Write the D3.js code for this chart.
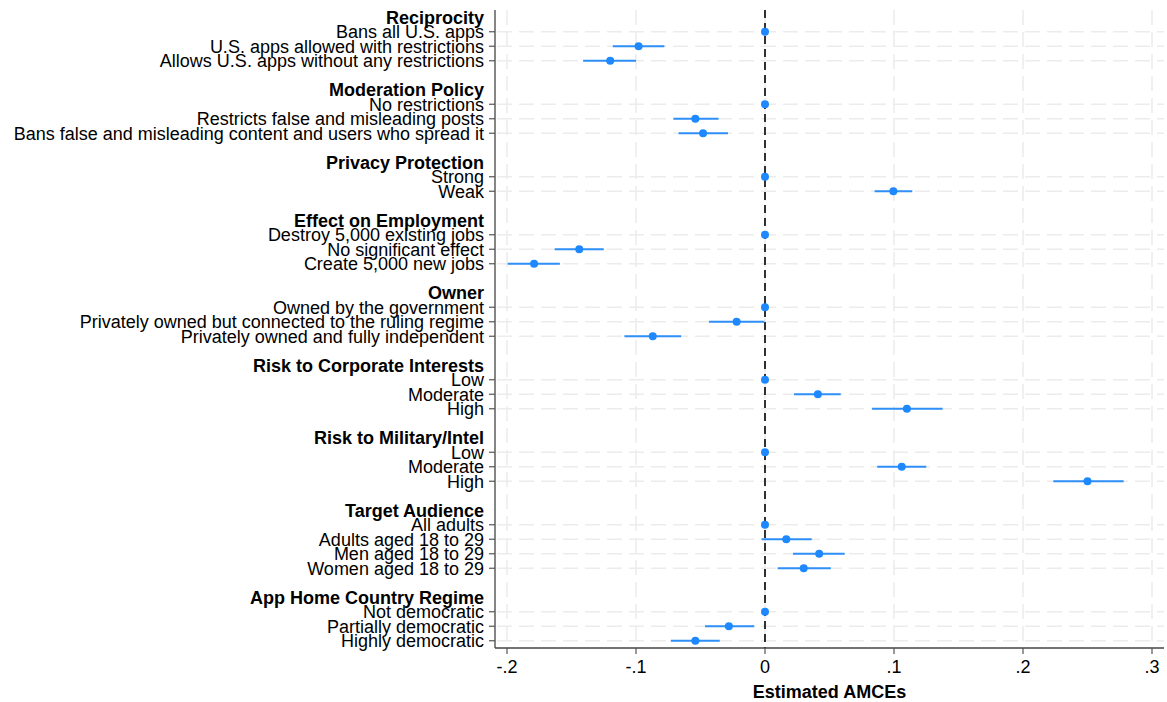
<!DOCTYPE html>
<html>
<head>
<meta charset="utf-8">
<script src="https://cdn.jsdelivr.net/npm/d3@7"></script>
<style>
  body { margin: 0; background: #fff; }
  text { font-family: "Liberation Sans", Arial, sans-serif; }
</style>
</head>
<body>
<svg id="chart" width="1167" height="702"></svg>
<script>
// attribute groups, each followed by its levels
var groups = [
    "Reciprocity", "Moderation Policy", "Privacy Protection", "Effect on Employment", "Owner",
    "Risk to Corporate Interests", "Risk to Military/Intel", "Target Audience", "App Home Country Regime"
];

var levels = [
    ["Bans all U.S. apps", "U.S. apps allowed with restrictions", "Allows U.S. apps without any restrictions"],
    ["No restrictions", "Restricts false and misleading posts", "Bans false and misleading content and users who spread it"],
    ["Strong", "Weak"],
    ["Destroy 5,000 existing jobs", "No significant effect", "Create 5,000 new jobs"],
    ["Owned by the government", "Privately owned but connected to the ruling regime", "Privately owned and fully independent"],
    ["Low", "Moderate", "High"],
    ["Low", "Moderate", "High"],
    ["All adults", "Adults aged 18 to 29", "Men aged 18 to 29", "Women aged 18 to 29"],
    ["Not democratic", "Partially democratic", "Highly democratic"]
];

var estimates = [
    [0, -0.098, -0.120],
    [0, -0.054, -0.048],
    [0, 0.0995],
    [0, -0.144, -0.179],
    [0, -0.022, -0.087],
    [0, 0.041, 0.110],
    [0, 0.106, 0.250],
    [0, 0.0165, 0.042, 0.030],
    [0, -0.028, -0.054]
];

var lower = [
    [0, -0.118, -0.141],
    [0, -0.071, -0.067],
    [0, 0.085],
    [0, -0.163, -0.1995],
    [0, -0.0434, -0.109],
    [0, 0.0225, 0.083],
    [0, 0.087, 0.2235],
    [0, -0.0026, 0.0217, 0.0098],
    [0, -0.0465, -0.073]
];

var upper = [
    [0, -0.078, -0.100],
    [0, -0.036, -0.0287],
    [0, 0.1142],
    [0, -0.125, -0.159],
    [0, -0.0005, -0.065],
    [0, 0.0587, 0.1377],
    [0, 0.125, 0.278],
    [0, 0.0362, 0.0618, 0.051],
    [0, -0.0083, -0.0351]
];

var xTicks = [-0.2, -0.1, 0, 0.1, 0.2, 0.3];
var xTickLabels = ["-.2", "-.1", "0", ".1", ".2", ".3"];

// build the row list: blank, header, levels...
var rows = [];
var idx = 0;
groups.forEach(function(g, gi) {
    if (gi > 0) { idx += 1; }
    rows.push({ type: "header", label: g, row: idx });
    idx += 1;
    levels[gi].forEach(function(l, li) {
        rows.push({
            type: "level", label: l, row: idx,
            est: estimates[gi][li], lo: lower[gi][li], hi: upper[gi][li]
        });
        idx += 1;
    });
});
var nRows = idx;

var svg = d3.select("#chart");
var plotLeft = 495, plotRight = 1164, plotTop = 10, plotBottom = 648;

var x = d3.scaleLinear().domain([-0.2, 0.3]).range([507, 1152]);
var y = d3.scaleLinear().domain([-0.5, nRows - 0.5]).range([plotTop, plotBottom]);

var items = rows.filter(function(d) { return d.type === "level"; });

// gridlines
svg.append("g").selectAll("line")
    .data(items)
    .enter().append("line")
    .attr("x1", plotLeft + 2).attr("x2", plotRight)
    .attr("y1", function(d) { return y(d.row); })
    .attr("y2", function(d) { return y(d.row); })
    .attr("stroke", "#ececec").attr("stroke-width", 1.5)
    .attr("stroke-dasharray", "15,7");

svg.append("g").selectAll("line")
    .data(xTicks)
    .enter().append("line")
    .attr("x1", function(d) { return x(d); })
    .attr("x2", function(d) { return x(d); })
    .attr("y1", plotTop).attr("y2", plotBottom)
    .attr("stroke", "#ececec").attr("stroke-width", 1.5)
    .attr("stroke-dasharray", "15,7");

// zero reference line
svg.append("line")
    .attr("x1", x(0)).attr("x2", x(0))
    .attr("y1", plotTop).attr("y2", plotBottom)
    .attr("stroke", "#000").attr("stroke-width", 1.6)
    .attr("stroke-dasharray", "8,5");

// confidence intervals
svg.append("g").selectAll("line")
    .data(items)
    .enter().append("line")
    .attr("x1", function(d) { return x(d.lo); })
    .attr("x2", function(d) { return x(d.hi); })
    .attr("y1", function(d) { return y(d.row); })
    .attr("y2", function(d) { return y(d.row); })
    .attr("stroke", "#2e8ff8").attr("stroke-width", 2);

// point estimates
svg.append("g").selectAll("circle")
    .data(items)
    .enter().append("circle")
    .attr("cx", function(d) { return x(d.est); })
    .attr("cy", function(d) { return y(d.row); })
    .attr("r", 4)
    .attr("fill", "#1e88ff");

// axes
svg.append("line")
    .attr("x1", plotLeft).attr("x2", plotLeft)
    .attr("y1", plotTop).attr("y2", plotBottom)
    .attr("stroke", "#444").attr("stroke-width", 1.3);
svg.append("line")
    .attr("x1", plotLeft).attr("x2", plotRight)
    .attr("y1", plotBottom).attr("y2", plotBottom)
    .attr("stroke", "#444").attr("stroke-width", 1.3);

// y ticks
svg.append("g").selectAll("line")
    .data(items)
    .enter().append("line")
    .attr("x1", plotLeft - 6).attr("x2", plotLeft)
    .attr("y1", function(d) { return y(d.row); })
    .attr("y2", function(d) { return y(d.row); })
    .attr("stroke", "#555").attr("stroke-width", 1.2);

// x ticks
svg.append("g").selectAll("line")
    .data(xTicks)
    .enter().append("line")
    .attr("x1", function(d) { return x(d); })
    .attr("x2", function(d) { return x(d); })
    .attr("y1", plotBottom).attr("y2", plotBottom + 6)
    .attr("stroke", "#555").attr("stroke-width", 1.2);

svg.append("g").selectAll("text")
    .data(xTicks)
    .enter().append("text")
    .attr("x", function(d) { return x(d); })
    .attr("y", 673)
    .attr("text-anchor", "middle")
    .attr("font-size", "18px")
    .attr("fill", "#000")
    .text(function(d, i) { return xTickLabels[i]; });

// row labels
svg.append("g").selectAll("text")
    .data(rows)
    .enter().append("text")
    .attr("x", 484)
    .attr("y", function(d) { return y(d.row); })
    .attr("dy", "0.36em")
    .attr("text-anchor", "end")
    .attr("font-size", "18px")
    .attr("font-weight", function(d) { return d.type === "header" ? "bold" : "normal"; })
    .attr("fill", "#000")
    .text(function(d) { return d.label; });

// axis title
svg.append("text")
    .attr("x", (plotLeft + plotRight) / 2)
    .attr("y", 698)
    .attr("text-anchor", "middle")
    .attr("font-size", "18px")
    .attr("font-weight", "bold")
    .text("Estimated AMCEs");
</script>
</body>
</html>
